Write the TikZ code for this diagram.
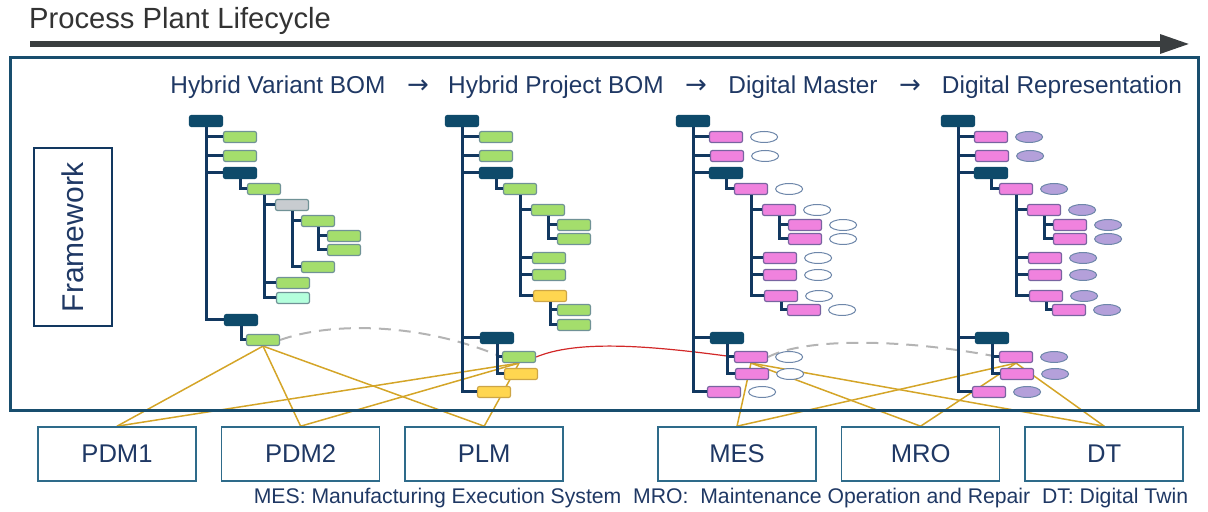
\documentclass[tikz,border=0pt]{standalone}
\usepackage{fontspec}
\setmainfont{Liberation Sans}
\newfontfamily\arrowfont{DejaVu Sans}
\usepackage{xcolor}
\usepackage{tikz}
\usetikzlibrary{positioning, arrows.meta, backgrounds, shapes.geometric}
\definecolor{titlegray}{RGB}{51, 51, 51}
\definecolor{lifearrow}{RGB}{58, 62, 64}
\definecolor{framecol}{RGB}{24, 78, 110}
\definecolor{headblue}{RGB}{31, 56, 100}
\definecolor{darknode}{RGB}{14, 74, 106}
\definecolor{treeline}{RGB}{18, 56, 96}
\definecolor{leafgreen}{RGB}{164, 222, 108}
\definecolor{leafedge}{RGB}{112, 146, 150}
\definecolor{leafgray}{RGB}{200, 204, 208}
\definecolor{leafmint}{RGB}{180, 255, 220}
\definecolor{leafyellow}{RGB}{255, 214, 80}
\definecolor{yellowedge}{RGB}{205, 165, 70}
\definecolor{leafpink}{RGB}{240, 130, 222}
\definecolor{pinkedge}{RGB}{120, 100, 160}
\definecolor{taglav}{RGB}{180, 160, 218}
\definecolor{tagedge}{RGB}{110, 135, 170}
\definecolor{goldline}{RGB}{212, 165, 40}
\definecolor{redline}{RGB}{210, 40, 40}
\definecolor{dashgray}{RGB}{180, 180, 180}
\definecolor{sysedge}{RGB}{46, 107, 138}

\begin{document}
\begin{tikzpicture}[x=0.5pt, y=-0.5pt,
        bom/.style={rectangle, rounded corners=1pt, minimum width=16.5pt, minimum height=5.5pt, inner sep=0pt, line width=0.6pt},
        dk/.style={bom, fill=darknode, draw=darknode},
        gn/.style={bom, fill=leafgreen, draw=leafedge},
        gy/.style={bom, fill=leafgray, draw=leafedge},
        mn/.style={bom, fill=leafmint, draw=leafedge},
        yl/.style={bom, fill=leafyellow, draw=yellowedge},
        pk/.style={bom, fill=leafpink, draw=pinkedge},
        tagw/.style={ellipse, minimum width=13.5pt, minimum height=5.5pt, inner sep=0pt, draw=tagedge, fill=white, line width=0.5pt},
        tagl/.style={tagw, fill=taglav},
        branch/.style={draw=treeline, line width=1.5pt},
        head/.style={text=headblue, font=\fontsize{12.2}{14}\selectfont, anchor=base},
        headarrow/.style={text=headblue, font=\arrowfont\fontsize{13}{14}\selectfont, anchor=base},
        sys/.style={draw=sysedge, line width=0.8pt, minimum width=79pt, minimum height=27pt, text=headblue, font=\fontsize{12.8}{15}\selectfont},
        feed/.style={draw=goldline, line width=0.75pt},
        trace/.style={draw=dashgray, line width=1pt, dash pattern=on 6pt off 4pt}
    ]
        \useasboundingbox (0,0) rectangle (1208,512);
        \node[anchor=base west, text=titlegray, font=\fontsize{14.6}{17}\selectfont] (title) at (22,29) {Process Plant Lifecycle};
        \coordinate (lcstart) at (30,44);
        \coordinate (lcend) at (1190,44);
        \draw[lifearrow, line width=3pt, -{Triangle[length=15pt, width=9pt]}] (lcstart) -- (lcend);
        \draw[framecol, line width=1.5pt] (10,58) rectangle (1198,411);
        \node[draw=treeline, line width=1.2pt, rotate=90, minimum width=89pt, minimum height=39pt, text=headblue, font=\fontsize{15}{18}\selectfont] (fw) at (73,237) {Framework};

        \node[head] (hvbom) at (278,94) {Hybrid Variant BOM};
        \node[headarrow] (arr1) at (418,94) {→};
        \node[head] (hpbom) at (556,94) {Hybrid Project BOM};
        \node[headarrow] (arr2) at (696,94) {→};
        \node[head] (dmaster) at (803,94) {Digital Master};
        \node[headarrow] (arr3) at (910,94) {→};
        \node[head] (drep) at (1062,94) {Digital Representation};

        \node[dk] (t1r) at (206,121) {};
        \node[gn] (t1a) at (240,137) {};
        \node[gn] (t1b) at (240,156) {};
        \node[dk] (t1c) at (240,173) {};
        \node[gn] (t1d) at (264,189) {};
        \node[gy] (t1e) at (292,205) {};
        \node[gn] (t1f) at (318,221) {};
        \node[gn] (t1g) at (344,236) {};
        \node[gn] (t1h) at (344,250) {};
        \node[gn] (t1i) at (318,267) {};
        \node[gn] (t1j) at (293,283) {};
        \node[mn] (t1k) at (293,298) {};
        \node[dk] (t1l) at (241,320) {};
        \node[gn] (t1m) at (263,340) {};
        \draw[branch] (t1r.south) |- (t1a.west);
        \draw[branch] (t1r.south) |- (t1b.west);
        \draw[branch] (t1r.south) |- (t1c.west);
        \draw[branch] (t1r.south) |- (t1l.west);
        \draw[branch] (t1c.south) |- (t1d.west);
        \draw[branch] (t1d.south) |- (t1e.west);
        \draw[branch] (t1d.south) |- (t1j.west);
        \draw[branch] (t1d.south) |- (t1k.west);
        \draw[branch] (t1e.south) |- (t1f.west);
        \draw[branch] (t1e.south) |- (t1i.west);
        \draw[branch] (t1f.south) |- (t1g.west);
        \draw[branch] (t1f.south) |- (t1h.west);
        \draw[branch] (t1l.south) |- (t1m.west);

        \node[dk] (t2r) at (462,121) {};
        \node[gn] (t2a) at (496,137) {};
        \node[gn] (t2b) at (496,156) {};
        \node[dk] (t2c) at (496,173) {};
        \node[gn] (t2d) at (520,189) {};
        \node[gn] (t2e) at (548,210) {};
        \node[gn] (t2f) at (574,225) {};
        \node[gn] (t2g) at (574,239) {};
        \node[gn] (t2h) at (549,258) {};
        \node[gn] (t2i) at (549,275) {};
        \node[yl] (t2j) at (550,296) {};
        \node[gn] (t2k) at (574,310) {};
        \node[gn] (t2l) at (574,325) {};
        \node[dk] (t2m) at (497,338) {};
        \node[gn] (t2n) at (519,357) {};
        \node[yl] (t2o) at (521,374) {};
        \node[yl] (t2p) at (494,392) {};
        \draw[branch] (t2r.south) |- (t2a.west);
        \draw[branch] (t2r.south) |- (t2b.west);
        \draw[branch] (t2r.south) |- (t2c.west);
        \draw[branch] (t2r.south) |- (t2m.west);
        \draw[branch] (t2r.south) |- (t2p.west);
        \draw[branch] (t2c.south) |- (t2d.west);
        \draw[branch] (t2d.south) |- (t2e.west);
        \draw[branch] (t2d.south) |- (t2h.west);
        \draw[branch] (t2d.south) |- (t2i.west);
        \draw[branch] (t2d.south) |- (t2j.west);
        \draw[branch] (t2e.south) |- (t2f.west);
        \draw[branch] (t2e.south) |- (t2g.west);
        \draw[branch] (t2j.south) |- (t2k.west);
        \draw[branch] (t2j.south) |- (t2l.west);
        \draw[branch] (t2m.south) |- (t2n.west);
        \draw[branch] (t2m.south) |- (t2o.west);

        \node[dk] (t3r) at (693,121) {};
        \node[pk] (t3a) at (726,137) {};
        \node[pk] (t3b) at (727,156) {};
        \node[dk] (t3c) at (726,173) {};
        \node[pk] (t3d) at (751,189) {};
        \node[pk] (t3e) at (779,210) {};
        \node[pk] (t3f) at (805,225) {};
        \node[pk] (t3g) at (805,239) {};
        \node[pk] (t3h) at (780,258) {};
        \node[pk] (t3i) at (780,275) {};
        \node[pk] (t3j) at (781,296) {};
        \node[pk] (t3k) at (804,310) {};
        \node[dk] (t3m) at (727,338) {};
        \node[pk] (t3n) at (751,357) {};
        \node[pk] (t3o) at (752,374) {};
        \node[pk] (t3p) at (724,392) {};
        \node[tagw, right=3.5pt of t3a] (t3ax) {};
        \node[tagw, right=3.5pt of t3b] (t3bx) {};
        \node[tagw, right=3.5pt of t3d] (t3dx) {};
        \node[tagw, right=3.5pt of t3e] (t3ex) {};
        \node[tagw, right=3.5pt of t3f] (t3fx) {};
        \node[tagw, right=3.5pt of t3g] (t3gx) {};
        \node[tagw, right=3.5pt of t3h] (t3hx) {};
        \node[tagw, right=3.5pt of t3i] (t3ix) {};
        \node[tagw, right=3.5pt of t3j] (t3jx) {};
        \node[tagw, right=3.5pt of t3k] (t3kx) {};
        \node[tagw, right=3.5pt of t3n] (t3nx) {};
        \node[tagw, right=3.5pt of t3o] (t3ox) {};
        \node[tagw, right=3.5pt of t3p] (t3px) {};
        \draw[branch] (t3r.south) |- (t3a.west);
        \draw[branch] (t3r.south) |- (t3b.west);
        \draw[branch] (t3r.south) |- (t3c.west);
        \draw[branch] (t3r.south) |- (t3m.west);
        \draw[branch] (t3r.south) |- (t3p.west);
        \draw[branch] (t3c.south) |- (t3d.west);
        \draw[branch] (t3d.south) |- (t3e.west);
        \draw[branch] (t3d.south) |- (t3h.west);
        \draw[branch] (t3d.south) |- (t3i.west);
        \draw[branch] (t3d.south) |- (t3j.west);
        \draw[branch] (t3e.south) |- (t3f.west);
        \draw[branch] (t3e.south) |- (t3g.west);
        \draw[branch] (t3j.south) |- (t3k.west);
        \draw[branch] (t3m.south) |- (t3n.west);
        \draw[branch] (t3m.south) |- (t3o.west);

        \node[dk] (t4r) at (958,121) {};
        \node[pk] (t4a) at (991,137) {};
        \node[pk] (t4b) at (992,156) {};
        \node[dk] (t4c) at (991,173) {};
        \node[pk] (t4d) at (1016,189) {};
        \node[pk] (t4e) at (1044,210) {};
        \node[pk] (t4f) at (1070,225) {};
        \node[pk] (t4g) at (1070,239) {};
        \node[pk] (t4h) at (1045,258) {};
        \node[pk] (t4i) at (1045,275) {};
        \node[pk] (t4j) at (1046,296) {};
        \node[pk] (t4k) at (1069,310) {};
        \node[dk] (t4m) at (992,338) {};
        \node[pk] (t4n) at (1016,357) {};
        \node[pk] (t4o) at (1017,374) {};
        \node[pk] (t4p) at (989,392) {};
        \node[tagl, right=3.5pt of t4a] (t4ax) {};
        \node[tagl, right=3.5pt of t4b] (t4bx) {};
        \node[tagl, right=3.5pt of t4d] (t4dx) {};
        \node[tagl, right=3.5pt of t4e] (t4ex) {};
        \node[tagl, right=3.5pt of t4f] (t4fx) {};
        \node[tagl, right=3.5pt of t4g] (t4gx) {};
        \node[tagl, right=3.5pt of t4h] (t4hx) {};
        \node[tagl, right=3.5pt of t4i] (t4ix) {};
        \node[tagl, right=3.5pt of t4j] (t4jx) {};
        \node[tagl, right=3.5pt of t4k] (t4kx) {};
        \node[tagl, right=3.5pt of t4n] (t4nx) {};
        \node[tagl, right=3.5pt of t4o] (t4ox) {};
        \node[tagl, right=3.5pt of t4p] (t4px) {};
        \draw[branch] (t4r.south) |- (t4a.west);
        \draw[branch] (t4r.south) |- (t4b.west);
        \draw[branch] (t4r.south) |- (t4c.west);
        \draw[branch] (t4r.south) |- (t4m.west);
        \draw[branch] (t4r.south) |- (t4p.west);
        \draw[branch] (t4c.south) |- (t4d.west);
        \draw[branch] (t4d.south) |- (t4e.west);
        \draw[branch] (t4d.south) |- (t4h.west);
        \draw[branch] (t4d.south) |- (t4i.west);
        \draw[branch] (t4d.south) |- (t4j.west);
        \draw[branch] (t4e.south) |- (t4f.west);
        \draw[branch] (t4e.south) |- (t4g.west);
        \draw[branch] (t4j.south) |- (t4k.west);
        \draw[branch] (t4m.south) |- (t4n.west);
        \draw[branch] (t4m.south) |- (t4o.west);

        \node[sys] (pdm1) at (117,454) {PDM1};
        \node[sys, right=12pt of pdm1] (pdm2) {PDM2};
        \node[sys, right=12pt of pdm2] (plm) {PLM};
        \node[sys] (mes) at (737,454) {MES};
        \node[sys, right=12pt of mes] (mro) {MRO};
        \node[sys, right=12pt of mro] (dt) {DT};
        \node[anchor=base, text=headblue, font=\fontsize{10.6}{12}\selectfont] (legend) at (721,503) {MES: Manufacturing Execution System\ \ MRO:\ \ Maintenance Operation and Repair\ \ DT: Digital Twin};

        \begin{scope}[on background layer]
            \draw[feed] (t1m.south) -- (pdm1.north);
            \draw[feed] (t1m.south) -- (pdm2.north);
            \draw[feed] (t1m.south) -- (plm.north);
            \draw[feed] (t2n.south) -- (pdm1.north);
            \draw[feed] (t2n.south) -- (pdm2.north);
            \draw[feed] (t2n.south) -- (plm.north);
            \draw[feed] (t3n.south) -- (mes.north);
            \draw[feed] (t3n.south) -- (mro.north);
            \draw[feed] (t3n.south) -- (dt.north);
            \draw[feed] (t4n.south) -- (mes.north);
            \draw[feed] (t4n.south) -- (mro.north);
            \draw[feed] (t4n.south) -- (dt.north);
            \draw[trace] (t1m.east) .. controls (330,322) and (420,322) .. (t2n.west);
            \draw[redline, line width=0.6pt] (t2n.east) .. controls (575,341) and (640,344) .. (t3n.west);
            \draw[trace] (t3n.east) .. controls (805,338) and (900,338) .. (t4n.west);
        \end{scope}
    \end{tikzpicture}
\end{document}
